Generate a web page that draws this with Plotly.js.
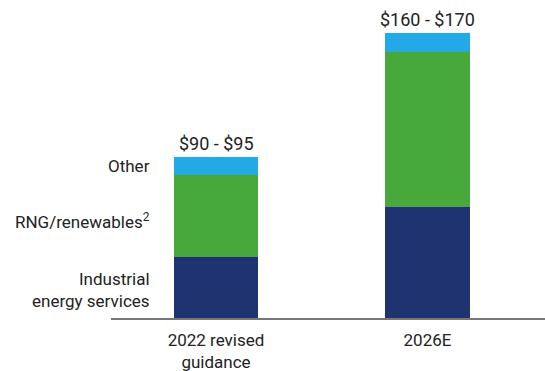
<!DOCTYPE html>
<html>
<head>
<meta charset="utf-8">
<script src="https://cdn.plot.ly/plotly-3.0.1.min.js"></script>
<style>html,body{margin:0;padding:0;background:#fff;}#chart{width:545px;height:371px;}</style>
</head>
<body>
<div id="chart"></div>
<script>
var categories = ["2022 revised<br>guidance", "2026E"];
var industrial = [35, 64];
var renewables = [47, 89];
var other = [10.5, 10.5];
var totalLabels = ["$90 - $95", "$160 - $170"];
var seriesNames = ["Industrial<br>energy services", "RNG/renewables<sup>2</sup>", "Other"];

var colors = ["#1f3370", "#47a83b", "#22a9e6"];
var font = "Roboto, 'Liberation Sans', sans-serif";

var xs = [0, 1];
var seriesVals = [industrial, renewables, other];
var traces = seriesVals.map(function (vals, i) {
  return {
    type: "bar", x: xs, y: vals, name: seriesNames[i],
    marker: {color: colors[i], line: {width: 0}},
    width: 0.4, hoverinfo: "skip"
  };
});

var annotations = [];
xs.forEach(function (x, j) {
  var tot = industrial[j] + renewables[j] + other[j];
  annotations.push({
    x: x, y: tot, xref: "x", yref: "y", text: totalLabels[j],
    showarrow: false, yanchor: "bottom", yshift: 1,
    font: {family: font, size: 18, color: "#222"}
  });
});
// segment labels beside the first bar
var cum = 0;
seriesVals.forEach(function (vals, i) {
  var mid = cum + vals[0] / 2;
  cum += vals[0];
  annotations.push({
    x: -0.2, y: mid, xref: "x", yref: "y", text: seriesNames[i],
    showarrow: false, xanchor: "right", align: "right", xshift: -22,
    yshift: i === 1 ? -5 : (i === 0 ? -2 : 0),
    font: {family: font, size: 17, color: "#222"}
  });
});

var layout = {
  width: 545, height: 371,
  margin: {l: 111, r: 0, t: 10, b: 53},
  barmode: "stack",
  showlegend: false,
  paper_bgcolor: "#fff", plot_bgcolor: "#fff",
  xaxis: {
    range: [-0.4965, 1.5556], tickvals: xs, ticktext: categories,
    showgrid: false, zeroline: false, showline: true, linecolor: "#777", linewidth: 1.5,
    ticks: "", ticklabelstandoff: 6,
    tickfont: {family: font, size: 17, color: "#222"}, fixedrange: true
  },
  yaxis: {
    range: [0, 177], visible: false, showgrid: false, zeroline: false, fixedrange: true
  },
  annotations: annotations
};

Plotly.newPlot("chart", traces, layout, {displayModeBar: false, staticPlot: true});
</script>
</body>
</html>
